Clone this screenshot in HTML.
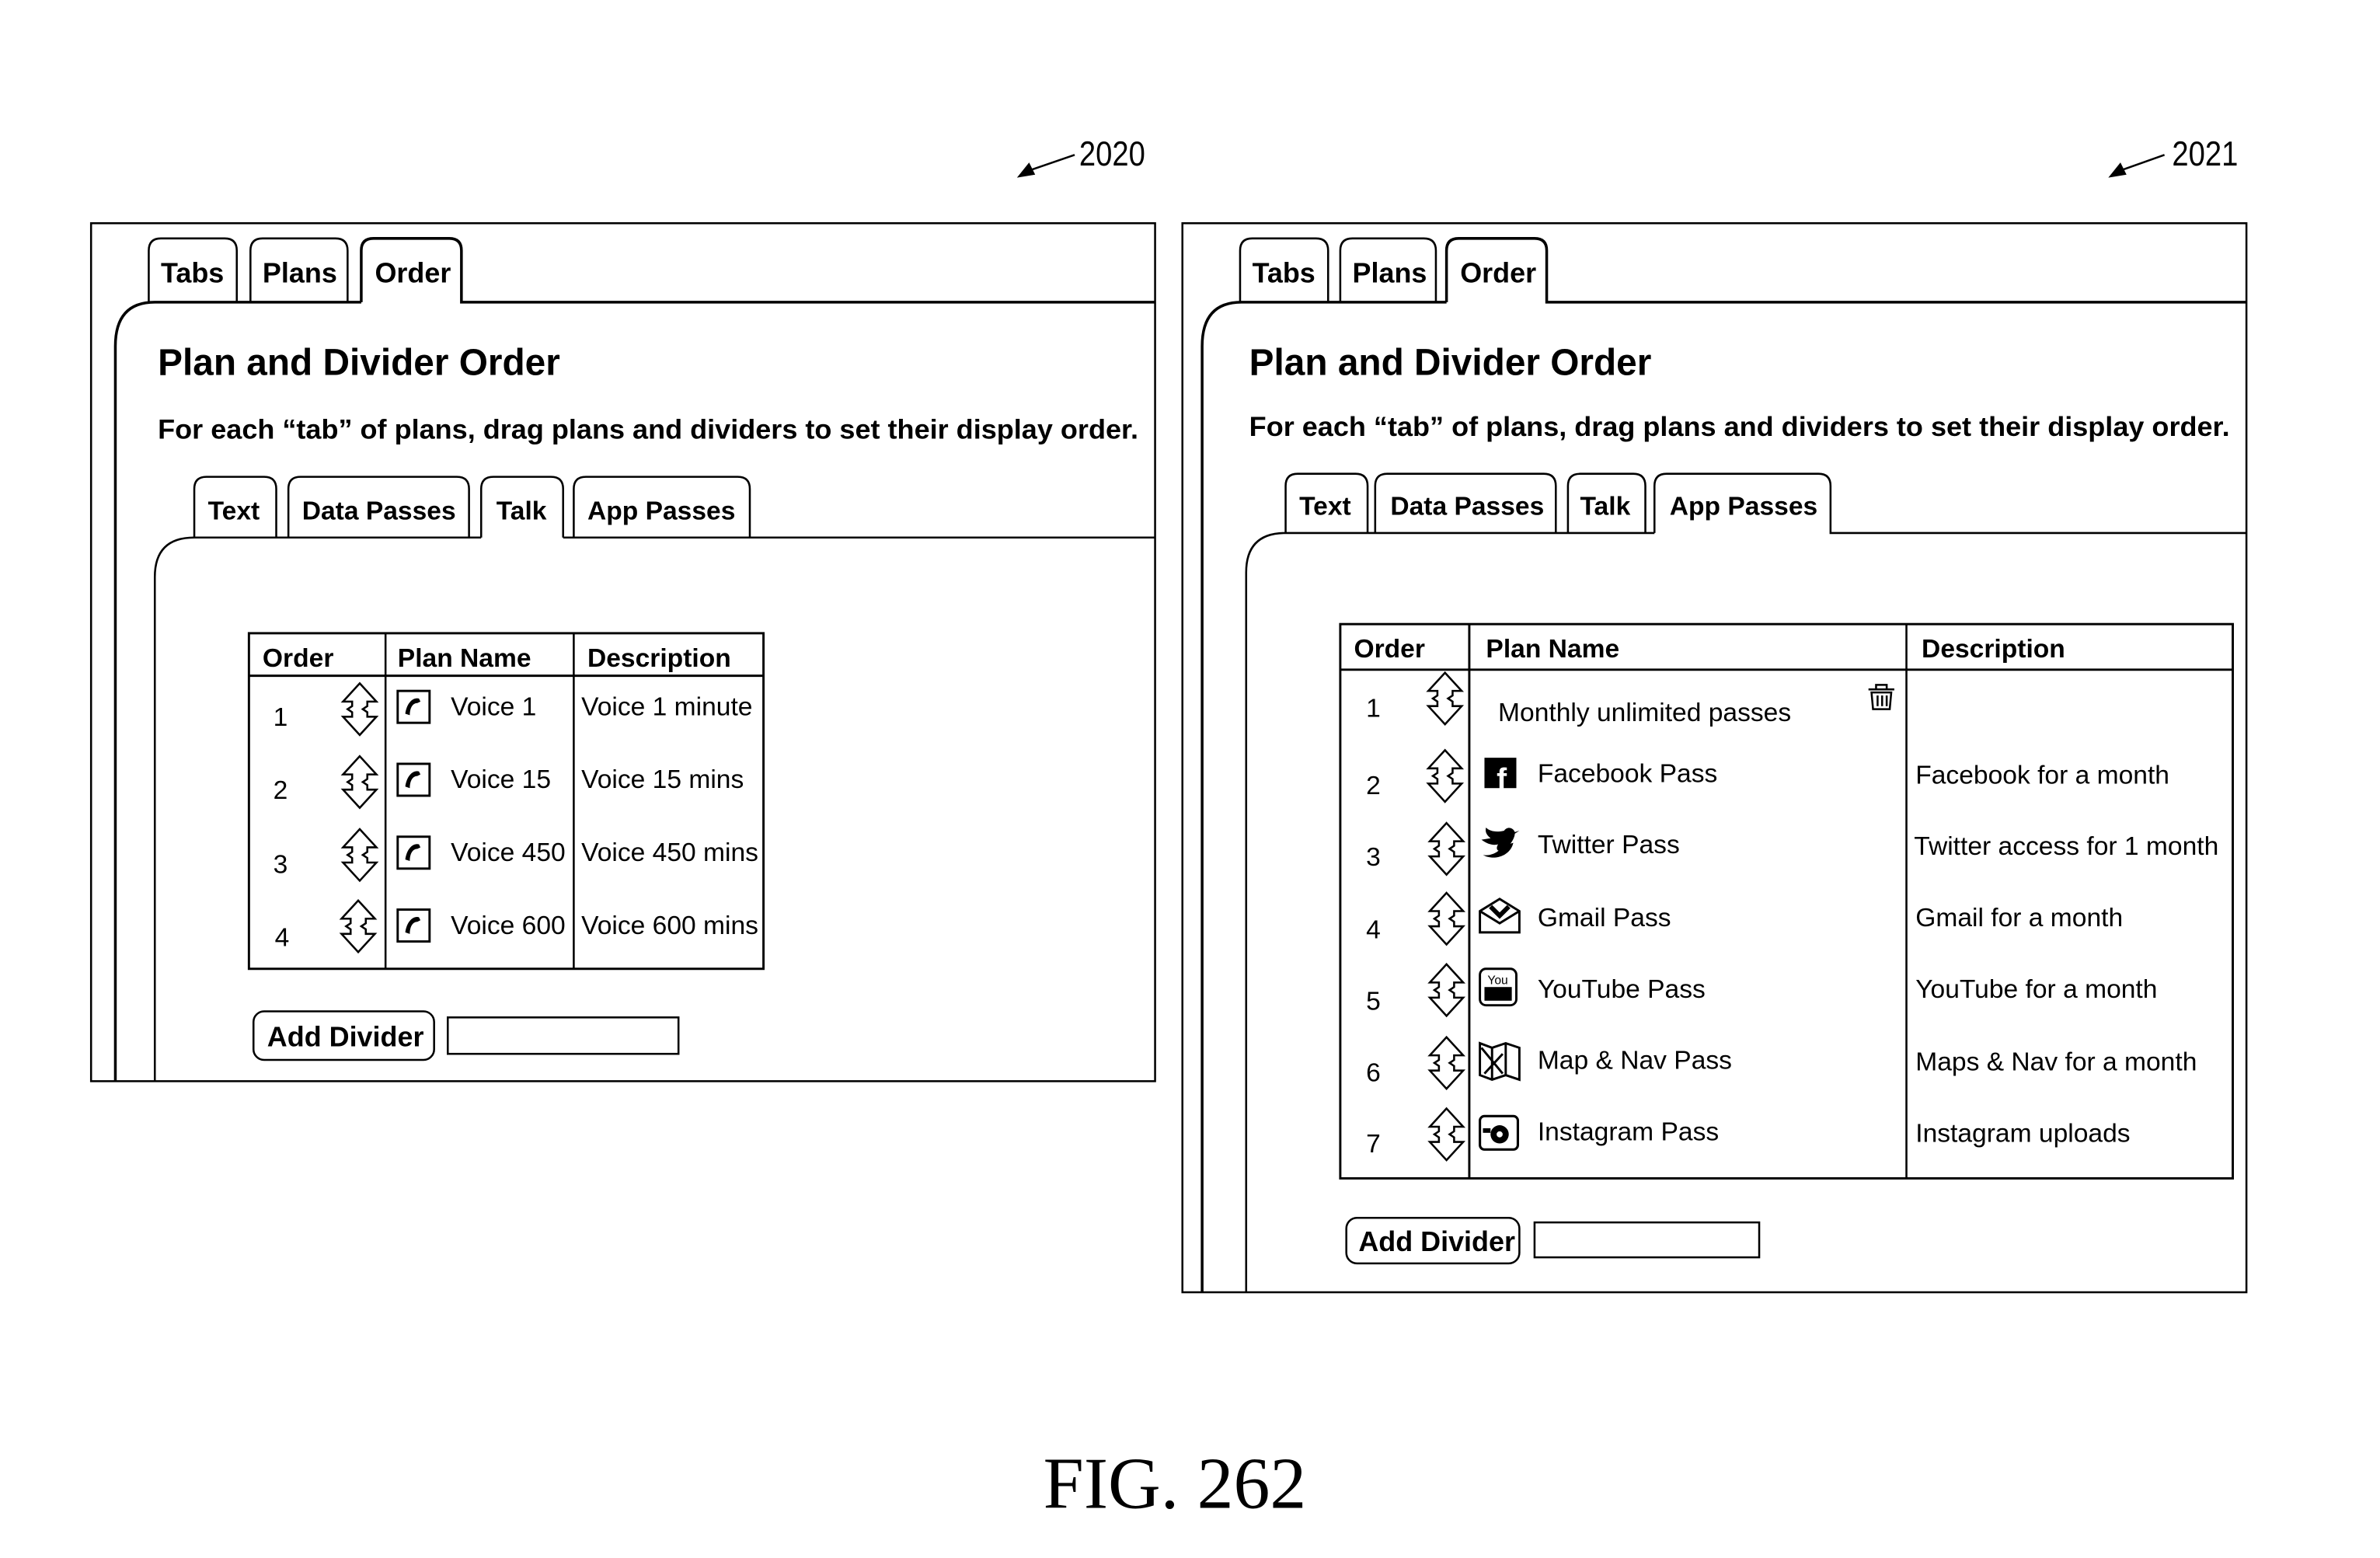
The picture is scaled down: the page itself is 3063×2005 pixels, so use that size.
<!DOCTYPE html>
<html><head><meta charset="utf-8"><style>
html,body{margin:0;padding:0;background:#fff;}
svg{display:block;}
text{font-family:"Liberation Sans",sans-serif;fill:#000;}
.b{font-weight:bold;}
</style></head><body>
<svg width="3063" height="2005" viewBox="0 0 1568 1026" preserveAspectRatio="none" xmlns="http://www.w3.org/2000/svg">
<defs>
<g id="arr"><polygon points="0,-17 11,-5 5,-5 5,-2 2,0 5,2 5,5 11,5 0,17 -11,5 -5,5 -5,2 -8,0 -5,-2 -5,-5 -11,-5" fill="#fff" stroke="#000" stroke-width="1.3"/></g>
<g id="ph"><rect x="0" y="0" width="21" height="21" fill="#fff" stroke="#000" stroke-width="1.5"/><path d="M14,5 C10,4 6,8 5,15 L8,16 C8,11 10,8 13,8 L15,7 Z" fill="#000"/></g>
</defs>
<g fill="none" stroke="#000" stroke-width="1.8">
<rect x="60" y="147" width="701" height="565" stroke-width="1.3"/>
<path d="M98,199 V165 Q98,157 106,157 H148 Q156,157 156,165 V199" stroke-width="1.3"/>
<path d="M165,199 V165 Q165,157 173,157 H221 Q229,157 229,165 V199" stroke-width="1.3"/>
<path d="M238,199 V165 Q238,157 246,157 H296 Q304,157 304,165 V199 H761"/>
<path d="M76,712 V228 Q76,199 102,199 H238"/>
<path d="M128,354 V322 Q128,314 136,314 H174 Q182,314 182,322 V354" stroke-width="1.3"/>
<path d="M190,354 V322 Q190,314 198,314 H301 Q309,314 309,322 V354" stroke-width="1.3"/>
<path d="M317,354 V322 Q317,314 325,314 H363 Q371,314 371,322 V354" stroke-width="1.3"/>
<path d="M378,354 V322 Q378,314 386,314 H486 Q494,314 494,322 V354" stroke-width="1.3"/>
<path d="M102,712 V380 Q102,354 128,354 H317 M371,354 H761" stroke-width="1.3"/>
<rect x="164" y="417" width="339" height="221" stroke-width="1.5"/>
<line x1="164" y1="445" x2="503" y2="445" stroke-width="1.5"/>
<line x1="254" y1="417" x2="254" y2="638" stroke-width="1.3"/>
<line x1="378" y1="417" x2="378" y2="638" stroke-width="1.3"/>
<rect x="167" y="666" width="119" height="32" rx="7" stroke-width="1.3"/>
<rect x="295" y="670" width="152" height="24" stroke-width="1.3"/>
<rect x="779" y="147" width="701" height="704" stroke-width="1.3"/>
<path d="M817,199 V165 Q817,157 825,157 H867 Q875,157 875,165 V199" stroke-width="1.3"/>
<path d="M883,199 V165 Q883,157 891,157 H938 Q946,157 946,165 V199" stroke-width="1.3"/>
<path d="M953,199 V165 Q953,157 961,157 H1011 Q1019,157 1019,165 V199 H1480"/>
<path d="M792,851 V228 Q792,199 818,199 H953"/>
<path d="M847,351 V320 Q847,312 855,312 H893 Q901,312 901,320 V351" stroke-width="1.3"/>
<path d="M906,351 V320 Q906,312 914,312 H1017 Q1025,312 1025,320 V351" stroke-width="1.3"/>
<path d="M1033,351 V320 Q1033,312 1041,312 H1076 Q1084,312 1084,320 V351" stroke-width="1.3"/>
<path d="M1090,351 V320 Q1090,312 1098,312 H1198 Q1206,312 1206,320 V351 H1480" stroke-width="1.3"/>
<path d="M821,851 V377 Q821,351 847,351 H1090" stroke-width="1.3"/>
<rect x="883" y="411" width="588" height="365" stroke-width="1.5"/>
<line x1="883" y1="441" x2="1471" y2="441" stroke-width="1.5"/>
<line x1="968" y1="411" x2="968" y2="776" stroke-width="1.5"/>
<line x1="1256" y1="411" x2="1256" y2="776" stroke-width="1.3"/>
<rect x="887" y="802" width="114" height="30" rx="7" stroke-width="1.3"/>
<rect x="1011" y="805" width="148" height="23" stroke-width="1.3"/>
<line x1="708" y1="102" x2="676" y2="113" stroke-width="1.3"/>
<line x1="1426" y1="102" x2="1395" y2="113" stroke-width="1.3"/>
</g>
<polygon points="670,117 678,107 682,115" fill="#000"/>
<polygon points="1389,117 1397,107 1401,115" fill="#000"/>
<text x="711" y="109" font-size="23" transform="translate(711,0) scale(0.85,1) translate(-711,0)">2020</text>
<text x="1431" y="109" font-size="23" transform="translate(1431,0) scale(0.85,1) translate(-1431,0)">2021</text>

<g font-size="18.4">
<text x="106" y="186" class="b">Tabs</text><text x="173" y="186" class="b">Plans</text><text x="247" y="186" class="b">Order</text>
<text x="825" y="186" class="b">Tabs</text><text x="891" y="186" class="b">Plans</text><text x="962" y="186" class="b">Order</text>
</g>
<text x="104" y="247" font-size="24.8" class="b" textLength="265" lengthAdjust="spacingAndGlyphs">Plan and Divider Order</text>
<text x="104" y="289" font-size="18" class="b" textLength="646" lengthAdjust="spacingAndGlyphs">For each “tab” of plans, drag plans and dividers to set their display order.</text>
<text x="823" y="247" font-size="24.8" class="b" textLength="265" lengthAdjust="spacingAndGlyphs">Plan and Divider Order</text>
<text x="823" y="287" font-size="18" class="b" textLength="646" lengthAdjust="spacingAndGlyphs">For each “tab” of plans, drag plans and dividers to set their display order.</text>
<g font-size="17.2">
<text x="137" y="342" class="b">Text</text><text x="199" y="342" class="b">Data Passes</text><text x="327" y="342" class="b">Talk</text><text x="387" y="342" class="b">App Passes</text>
<text x="856" y="339" class="b">Text</text><text x="916" y="339" class="b">Data Passes</text><text x="1041" y="339" class="b">Talk</text><text x="1100" y="339" class="b">App Passes</text>
</g>
<g font-size="17.2">
<text x="173" y="439" class="b">Order</text><text x="262" y="439" class="b">Plan Name</text><text x="387" y="439" class="b">Description</text>
<text x="180" y="478">1</text><text x="180" y="526">2</text><text x="180" y="575">3</text><text x="181" y="623">4</text>
<text x="297" y="471">Voice 1</text><text x="297" y="519">Voice 15</text><text x="297" y="567">Voice 450</text><text x="297" y="615">Voice 600</text>
<text x="383" y="471">Voice 1 minute</text><text x="383" y="519">Voice 15 mins</text><text x="383" y="567">Voice 450 mins</text><text x="383" y="615">Voice 600 mins</text>
</g>
<use href="#arr" x="237" y="467"/><use href="#arr" x="237" y="515"/><use href="#arr" x="237" y="563"/><use href="#arr" x="236" y="610"/>
<use href="#ph" x="262" y="455"/><use href="#ph" x="262" y="503"/><use href="#ph" x="262" y="551"/><use href="#ph" x="262" y="599"/>
<text x="176" y="689" font-size="18.4" class="b">Add Divider</text>

<g font-size="17.2">
<text x="892" y="433" class="b">Order</text><text x="979" y="433" class="b">Plan Name</text><text x="1266" y="433" class="b">Description</text>
<text x="900" y="472">1</text><text x="900" y="523">2</text><text x="900" y="570">3</text><text x="900" y="618">4</text><text x="900" y="665">5</text><text x="900" y="712">6</text><text x="900" y="759">7</text>
<text x="987" y="475">Monthly unlimited passes</text>
<text x="1013" y="515">Facebook Pass</text><text x="1013" y="562">Twitter Pass</text><text x="1013" y="610">Gmail Pass</text><text x="1013" y="657">YouTube Pass</text><text x="1013" y="704">Map &amp; Nav Pass</text><text x="1013" y="751">Instagram Pass</text>
<text x="1262" y="516">Facebook for a month</text><text x="1261" y="563">Twitter access for 1 month</text><text x="1262" y="610">Gmail for a month</text><text x="1262" y="657">YouTube for a month</text><text x="1262" y="705">Maps &amp; Nav for a month</text><text x="1262" y="752">Instagram uploads</text>
</g>
<use href="#arr" x="952" y="460"/><use href="#arr" x="952" y="511"/><use href="#arr" x="953" y="559"/><use href="#arr" x="953" y="605"/><use href="#arr" x="953" y="652"/><use href="#arr" x="953" y="700"/><use href="#arr" x="953" y="747"/>
<g fill="none" stroke="#000" stroke-width="1.3"><path d="M1231,454 H1248 M1236,454 V451 H1243 V454 M1233,456 L1234,467 H1245 L1246,456 Z M1237,458 V465 M1240,458 V465 M1243,458 V465"/></g>
<rect x="978" y="499" width="21" height="20" fill="#000"/><text x="986" y="520" font-size="20" class="b" style="fill:#fff">f</text>
<path d="M976,553 C980,556 984,557 987,556 C984,561 990,562 992,558 C996,556 998,551 998,549 L1001,547 L998,548 C997,545 993,544 991,547 C987,548 982,548 979,545 C978,549 981,551 982,552 Z M977,563 C984,567 995,564 997,555 L990,557 C988,561 982,564 977,563 Z" fill="#000"/>
<g fill="none" stroke="#000" stroke-width="1.5"><path d="M975,600 L988,592 L1001,600 V614 H975 Z M975,600 L988,608 L1001,600"/><path d="M982,597 L988,603 L994,597" stroke-width="3"/></g>
<rect x="975" y="638" width="24" height="24" rx="4" fill="none" stroke="#000" stroke-width="1.5"/><rect x="978" y="650" width="18" height="9" fill="#000"/><text x="980" y="648" font-size="8">You</text>
<g stroke="#000" stroke-width="1.5" fill="none"><path d="M975,687 L983,690 L992,687 L1001,690 V711 L992,708 L983,711 L975,708 Z M983,690 V711 M992,687 V708 M976,690 L990,707 M990,694 L978,707"/></g>
<rect x="975" y="735" width="25" height="22" rx="3" fill="none" stroke="#000" stroke-width="1.6"/><circle cx="988" cy="747" r="6" fill="#000"/><circle cx="988" cy="747" r="2" fill="#fff"/><rect x="977" y="743" width="5" height="3" fill="#000"/>
<text x="895" y="824" font-size="18.4" class="b">Add Divider</text>

<text x="774" y="993" font-size="48" text-anchor="middle" style="font-family:'Liberation Serif',serif">FIG. 262</text>
</svg>
</body></html>
